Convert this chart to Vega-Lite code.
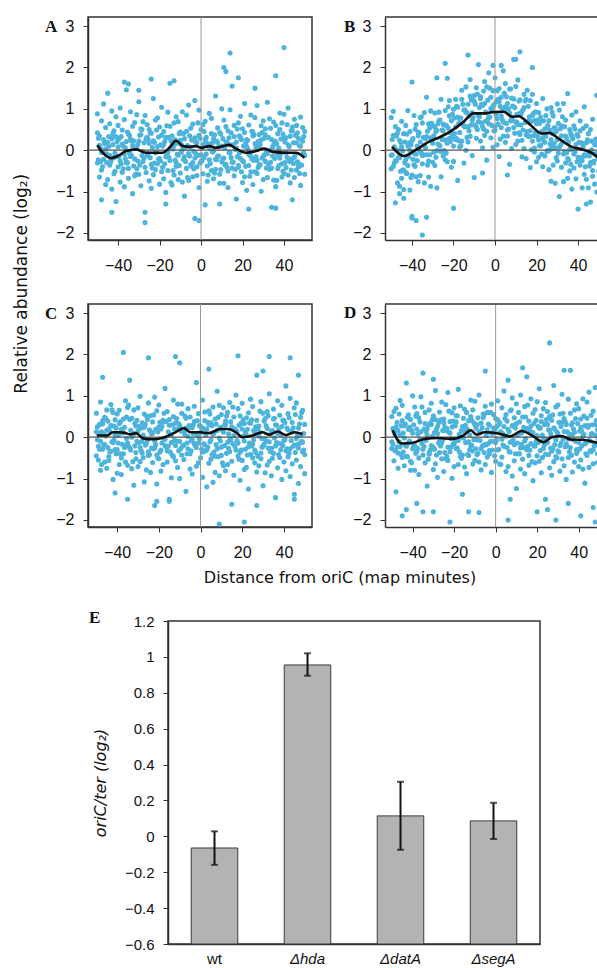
{
"$schema":"https://vega.github.io/schema/vega-lite/v6.json",
"background":"white",
"padding":{"left":13,"top":15,"right":0,"bottom":0},
"config":{
"font":"Liberation Sans",
"title":{"font":"DejaVu Sans","fontSize":16,"fontWeight":"normal","color":"#111"},
"axis":{"labelFont":"Liberation Sans","labelFontSize":16,"labelColor":"#111","domainColor":"#333","domainWidth":1.5,"tickColor":"#333","tickWidth":1,"tickSize":5,"grid":false,"labelOverlap":false,"titleFont":"DejaVu Sans","titleFontSize":16,"titleFontWeight":"normal","titleColor":"#111"},
"axisX":{"labelPadding":12},
"axisY":{"labelPadding":9},
"view":{"stroke":"#333","strokeWidth":1.5}
},
"datasets":{
"A":[{"x":-50,"y":0.42},{"x":-50,"y":-0.31},{"x":-50,"y":0.88},{"x":-49,"y":-0.65},{"x":-49,"y":0.12},{"x":-49,"y":0.35},{"x":-48,"y":0.71},{"x":-48,"y":-0.48},{"x":-48,"y":-0.05},{"x":-47,"y":1.12},{"x":-47,"y":-0.22},{"x":-47,"y":0.26},{"x":-46,"y":-0.83},{"x":-46,"y":0.55},{"x":-46,"y":0.03},{"x":-45,"y":0.19},{"x":-45,"y":-0.71},{"x":-45,"y":1.38},{"x":-44,"y":-0.36},{"x":-44,"y":0.64},{"x":-44,"y":-0.12},{"x":-43,"y":0.95},{"x":-43,"y":-0.94},{"x":-43,"y":0.28},{"x":-42,"y":-0.18},{"x":-42,"y":0.47},{"x":-42,"y":-0.57},{"x":-41,"y":0.33},{"x":-41,"y":-1.24},{"x":-41,"y":0.81},{"x":-40,"y":0.6},{"x":-40,"y":-0.4},{"x":-40,"y":0.08},{"x":-39,"y":-0.77},{"x":-39,"y":1.02},{"x":-39,"y":-0.26},{"x":-38,"y":0.15},{"x":-38,"y":-0.53},{"x":-38,"y":0.49},{"x":-37,"y":-0.09},{"x":-37,"y":0.74},{"x":-37,"y":-0.88},{"x":-36,"y":1.46},{"x":-36,"y":-0.3},{"x":-36,"y":0.21},{"x":-35,"y":-0.44},{"x":-35,"y":0.39},{"x":-35,"y":-0.68},{"x":-34,"y":0.27},{"x":-34,"y":-0.15},{"x":-34,"y":0.93},{"x":-33,"y":-1.05},{"x":-33,"y":0.58},{"x":-33,"y":0.11},{"x":-32,"y":0.67},{"x":-32,"y":-0.62},{"x":-32,"y":-0.21},{"x":-31,"y":0.04},{"x":-31,"y":0.86},{"x":-31,"y":-0.45},{"x":-30,"y":-0.58},{"x":-30,"y":0.22},{"x":-30,"y":1.17},{"x":-29,"y":0.38},{"x":-29,"y":-0.86},{"x":-29,"y":0.52},{"x":-28,"y":-0.27},{"x":-28,"y":0.69},{"x":-28,"y":-0.03},{"x":-27,"y":0.84},{"x":-27,"y":-0.41},{"x":-27,"y":-1.5},{"x":-26,"y":-0.13},{"x":-26,"y":0.31},{"x":-26,"y":0.62},{"x":-25,"y":0.5},{"x":-25,"y":-0.74},{"x":-25,"y":0.17},{"x":-24,"y":-0.92},{"x":-24,"y":0.41},{"x":-24,"y":-0.34},{"x":-23,"y":0.23},{"x":-23,"y":1.25},{"x":-23,"y":-0.59},{"x":-22,"y":-0.47},{"x":-22,"y":-0.06},{"x":-22,"y":0.73},{"x":-21,"y":0.78},{"x":-21,"y":-0.33},{"x":-21,"y":0.09},{"x":-20,"y":-0.2},{"x":-20,"y":0.56},{"x":-20,"y":-0.82},{"x":-19,"y":1.04},{"x":-19,"y":-0.52},{"x":-19,"y":0.36},{"x":-18,"y":-0.69},{"x":-18,"y":0.14},{"x":-18,"y":0.45},{"x":-17,"y":0.31},{"x":-17,"y":-1.02},{"x":-17,"y":-0.16},{"x":-16,"y":-0.04},{"x":-16,"y":0.92},{"x":-16,"y":-0.49},{"x":-15,"y":0.58},{"x":-15,"y":-0.25},{"x":-15,"y":1.62},{"x":-14,"y":-0.84},{"x":-14,"y":0.35},{"x":-14,"y":0.07},{"x":-13,"y":0.12},{"x":-13,"y":-0.6},{"x":-13,"y":0.66},{"x":-12,"y":-0.39},{"x":-12,"y":0.81},{"x":-12,"y":-0.3},{"x":-11,"y":0.69},{"x":-11,"y":-0.12},{"x":-11,"y":-0.71},{"x":-10,"y":-0.55},{"x":-10,"y":0.44},{"x":-10,"y":0.24},{"x":-9,"y":0.93},{"x":-9,"y":-0.77},{"x":-9,"y":0.02},{"x":-8,"y":-0.16},{"x":-8,"y":0.28},{"x":-8,"y":-1.11},{"x":-7,"y":0.46},{"x":-7,"y":-0.44},{"x":-7,"y":0.85},{"x":-6,"y":-0.73},{"x":-6,"y":1.09},{"x":-6,"y":-0.08},{"x":-5,"y":0.07},{"x":-5,"y":-0.35},{"x":-5,"y":0.53},{"x":-4,"y":-0.3},{"x":-4,"y":0.63},{"x":-4,"y":-0.64},{"x":-3,"y":1.2},{"x":-3,"y":-0.19},{"x":-3,"y":0.3},{"x":-2,"y":-0.61},{"x":-2,"y":0.18},{"x":-2,"y":-0.4},{"x":-1,"y":0.36},{"x":-1,"y":-0.9},{"x":-1,"y":0.97},{"x":0,"y":-0.11},{"x":0,"y":0.5},{"x":0,"y":-0.27},{"x":1,"y":0.62},{"x":1,"y":-0.57},{"x":1,"y":0.14},{"x":2,"y":-1.32},{"x":2,"y":0.25},{"x":2,"y":0.7},{"x":3,"y":0.16},{"x":3,"y":-0.38},{"x":3,"y":-0.75},{"x":4,"y":0.89},{"x":4,"y":0.06},{"x":4,"y":-0.23},{"x":5,"y":-0.49},{"x":5,"y":0.77},{"x":5,"y":0.4},{"x":6,"y":0.28},{"x":6,"y":-0.69},{"x":6,"y":-0.02},{"x":7,"y":-0.22},{"x":7,"y":1.31},{"x":7,"y":-0.46},{"x":8,"y":0.54},{"x":8,"y":-0.14},{"x":8,"y":0.19},{"x":9,"y":-0.8},{"x":9,"y":0.43},{"x":9,"y":-0.58},{"x":10,"y":0.1},{"x":10,"y":-0.28},{"x":10,"y":1.0},{"x":11,"y":0.73},{"x":11,"y":-0.8},{"x":11,"y":-0.19},{"x":12,"y":-0.34},{"x":12,"y":0.2},{"x":12,"y":0.57},{"x":13,"y":0.47},{"x":13,"y":-0.5},{"x":13,"y":-0.9},{"x":14,"y":-0.06},{"x":14,"y":0.98},{"x":14,"y":0.13},{"x":15,"y":1.55},{"x":15,"y":-0.43},{"x":15,"y":-0.29},{"x":16,"y":-0.62},{"x":16,"y":0.33},{"x":16,"y":0.6},{"x":17,"y":0.2},{"x":17,"y":-1.18},{"x":17,"y":0.05},{"x":18,"y":-0.41},{"x":18,"y":0.66},{"x":18,"y":-0.37},{"x":19,"y":0.82},{"x":19,"y":-0.2},{"x":19,"y":0.31},{"x":20,"y":-0.25},{"x":20,"y":0.52},{"x":20,"y":-0.78},{"x":21,"y":0.43},{"x":21,"y":-0.64},{"x":21,"y":1.13},{"x":22,"y":-0.97},{"x":22,"y":0.09},{"x":22,"y":0.26},{"x":23,"y":0.61},{"x":23,"y":-0.37},{"x":23,"y":-0.1},{"x":24,"y":-0.14},{"x":24,"y":0.85},{"x":24,"y":-0.52},{"x":25,"y":0.35},{"x":25,"y":-0.83},{"x":25,"y":0.44},{"x":26,"y":-0.52},{"x":26,"y":0.16},{"x":26,"y":0.79},{"x":27,"y":1.08},{"x":27,"y":-0.56},{"x":27,"y":-0.24},{"x":28,"y":-0.35},{"x":28,"y":0.38},{"x":28,"y":0.1},{"x":29,"y":0.25},{"x":29,"y":-0.99},{"x":29,"y":0.59},{"x":30,"y":-0.71},{"x":30,"y":0.71},{"x":30,"y":-0.15},{"x":31,"y":0.52},{"x":31,"y":-0.27},{"x":31,"y":0.37},{"x":32,"y":-0.08},{"x":32,"y":1.16},{"x":32,"y":-0.66},{"x":33,"y":0.76},{"x":33,"y":-0.46},{"x":33,"y":0.0},{"x":34,"y":-0.43},{"x":34,"y":0.26},{"x":34,"y":-1.38},{"x":35,"y":0.14},{"x":35,"y":-0.72},{"x":35,"y":0.68},{"x":36,"y":-0.88},{"x":36,"y":0.6},{"x":36,"y":0.2},{"x":37,"y":0.4},{"x":37,"y":-0.11},{"x":37,"y":-0.44},{"x":38,"y":-0.19},{"x":38,"y":0.9},{"x":38,"y":0.5},{"x":39,"y":0.66},{"x":39,"y":-0.65},{"x":39,"y":-0.33},{"x":40,"y":-0.56},{"x":40,"y":0.3},{"x":40,"y":0.87},{"x":41,"y":0.3},{"x":41,"y":-0.42},{"x":41,"y":-0.06},{"x":42,"y":1.02},{"x":42,"y":0.13},{"x":42,"y":-0.6},{"x":43,"y":-0.28},{"x":43,"y":-0.79},{"x":43,"y":0.34},{"x":44,"y":0.56},{"x":44,"y":0.47},{"x":44,"y":-0.2},{"x":45,"y":-0.66},{"x":45,"y":-0.17},{"x":45,"y":0.75},{"x":46,"y":0.18},{"x":46,"y":0.6},{"x":46,"y":-0.48},{"x":47,"y":-0.4},{"x":47,"y":-0.32},{"x":47,"y":0.29},{"x":48,"y":0.8},{"x":48,"y":0.1},{"x":48,"y":-0.85},{"x":49,"y":-0.1},{"x":49,"y":0.55},{"x":49,"y":0.22},{"x":50,"y":0.45},{"x":50,"y":-0.58},{"x":50,"y":-0.13},
{"x":14,"y":2.35},{"x":40,"y":2.48},{"x":11,"y":2.0},{"x":12,"y":1.9},{"x":-13,"y":1.68},{"x":-24,"y":1.72},{"x":-37,"y":1.65},{"x":-3,"y":-1.65},{"x":-1,"y":-1.7},{"x":-27,"y":-1.75},{"x":-43,"y":-1.5},{"x":-48,"y":-1.2},{"x":23,"y":-1.42},{"x":36,"y":-1.4},{"x":9,"y":-1.3},{"x":36,"y":1.8},{"x":-35,"y":1.6},{"x":18,"y":1.75},{"x":26,"y":1.5},{"x":-30,"y":1.45},{"x":-17,"y":-1.3},{"x":44,"y":-1.2},
{"x":-49.5,"y":-0.23},{"x":-49.5,"y":0.29},{"x":-48.5,"y":0.05},{"x":-48.5,"y":-0.28},{"x":-47.5,"y":-0.4},{"x":-47.5,"y":-0.05},{"x":-46.5,"y":0.2},{"x":-46.5,"y":0.16},{"x":-45.5,"y":-0.09},{"x":-45.5,"y":-0.3},{"x":-44.5,"y":0.33},{"x":-44.5,"y":0.09},{"x":-43.5,"y":-0.28},{"x":-43.5,"y":-0.24},{"x":-42.5,"y":0.14},{"x":-42.5,"y":0.4},{"x":-41.5,"y":-0.51},{"x":-41.5,"y":-0.07},{"x":-40.5,"y":-0.15},{"x":-40.5,"y":0.21},{"x":-39.5,"y":0.28},{"x":-39.5,"y":-0.15},{"x":-38.5,"y":-0.33},{"x":-38.5,"y":0.33},{"x":-37.5,"y":0.1},{"x":-37.5,"y":-0.45},{"x":-36.5,"y":-0.2},{"x":-36.5,"y":0.06},{"x":-35.5,"y":0.44},{"x":-35.5,"y":-0.3},{"x":-34.5,"y":-0.07},{"x":-34.5,"y":0.36},{"x":-33.5,"y":0.22},{"x":-33.5,"y":-0.13},{"x":-32.5,"y":-0.38},{"x":-32.5,"y":0.23},{"x":-31.5,"y":0.04},{"x":-31.5,"y":-0.58},{"x":-30.5,"y":-0.26},{"x":-30.5,"y":0.14},{"x":-29.5,"y":0.36},{"x":-29.5,"y":-0.36},{"x":-28.5,"y":-0.13},{"x":-28.5,"y":0.5},{"x":-27.5,"y":0.18},{"x":-27.5,"y":-0.19},{"x":-26.5,"y":-0.54},{"x":-26.5,"y":0.28},{"x":-25.5,"y":0.26},{"x":-25.5,"y":-0.08},{"x":-24.5,"y":-0.18},{"x":-24.5,"y":0.42},{"x":-23.5,"y":0.07},{"x":-23.5,"y":-0.43},{"x":-22.5,"y":-0.31},{"x":-22.5,"y":0.19},{"x":-21.5,"y":0.49},{"x":-21.5,"y":-0.05},{"x":-20.5,"y":-0.22},{"x":-20.5,"y":0.32},{"x":-19.5,"y":0.13},{"x":-19.5,"y":-0.26},{"x":-18.5,"y":-0.41},{"x":-18.5,"y":0.1},{"x":-17.5,"y":0.21},{"x":-17.5,"y":-0.33},{"x":-16.5,"y":-0.1},{"x":-16.5,"y":0.59},{"x":-15.5,"y":0.31},{"x":-15.5,"y":-0.17},{"x":-14.5,"y":-0.78},{"x":-14.5,"y":0.22},{"x":-13.5,"y":0.03},{"x":-13.5,"y":-0.49},{"x":-12.5,"y":-0.24},{"x":-12.5,"y":0.25},{"x":-11.5,"y":0.17},{"x":-11.5,"y":-0.1},{"x":-10.5,"y":-0.37},{"x":-10.5,"y":0.4},{"x":-9.5,"y":-0.05},{"x":-9.5,"y":0.14},{"x":-8.5,"y":0.4},{"x":-8.5,"y":-0.22},{"x":-7.5,"y":-0.27},{"x":-7.5,"y":0.07},{"x":-6.5,"y":0.11},{"x":-6.5,"y":-0.66},{"x":-5.5,"y":-0.14},{"x":-5.5,"y":0.35},{"x":-4.5,"y":0.25},{"x":-4.5,"y":-0.39},{"x":-3.5,"y":-0.45},{"x":-3.5,"y":-0.03},{"x":-2.5,"y":-0.08},{"x":-2.5,"y":0.19},{"x":-1.5,"y":0.66},{"x":-1.5,"y":-0.13},{"x":-0.5,"y":-0.31},{"x":-0.5,"y":0.29},{"x":0.5,"y":0.06},{"x":0.5,"y":-0.25},{"x":1.5,"y":-0.18},{"x":1.5,"y":0.45},{"x":2.5,"y":0.31},{"x":2.5,"y":-0.09},{"x":3.5,"y":-0.6},{"x":3.5,"y":0.1},{"x":4.5,"y":0.15},{"x":4.5,"y":-0.32},{"x":5.5,"y":-0.04},{"x":5.5,"y":0.18},{"x":6.5,"y":0.37},{"x":6.5,"y":-0.55},{"x":7.5,"y":-0.23},{"x":7.5,"y":0.22},{"x":8.5,"y":0.08},{"x":8.5,"y":-0.14},{"x":9.5,"y":-0.47},{"x":9.5,"y":0.39},{"x":10.5,"y":0.28},{"x":10.5,"y":-0.22},{"x":11.5,"y":-0.35},{"x":11.5,"y":0.06},{"x":12.5,"y":0.2},{"x":12.5,"y":-0.41},{"x":13.5,"y":-0.06},{"x":13.5,"y":0.3},{"x":14.5,"y":0.42},{"x":14.5,"y":-0.18},{"x":15.5,"y":-0.29},{"x":15.5,"y":0.13},{"x":16.5,"y":0.02},{"x":16.5,"y":-0.46},{"x":17.5,"y":-0.16},{"x":17.5,"y":0.51},{"x":18.5,"y":0.35},{"x":18.5,"y":-0.07},{"x":19.5,"y":-0.52},{"x":19.5,"y":0.26},{"x":20.5,"y":0.1},{"x":20.5,"y":-0.28},{"x":21.5,"y":-0.39},{"x":21.5,"y":0.17},{"x":22.5,"y":0.24},{"x":22.5,"y":0.03},{"x":23.5,"y":-0.12},{"x":23.5,"y":-0.63},{"x":24.5,"y":0.46},{"x":24.5,"y":-0.21},{"x":25.5,"y":-0.25},{"x":25.5,"y":0.37},{"x":26.5,"y":0.07},{"x":26.5,"y":-0.16},{"x":27.5,"y":-0.42},{"x":27.5,"y":0.21},{"x":28.5,"y":0.14},{"x":28.5,"y":-0.35},{"x":29.5,"y":-0.19},{"x":29.5,"y":0.43},{"x":30.5,"y":0.29},{"x":30.5,"y":-0.11},{"x":31.5,"y":-0.02},{"x":31.5,"y":-0.43},{"x":32.5,"y":-0.34},{"x":32.5,"y":0.31},{"x":33.5,"y":0.53},{"x":33.5,"y":-0.29},{"x":34.5,"y":-0.14},{"x":34.5,"y":0.08},{"x":35.5,"y":0.22},{"x":35.5,"y":-0.2},{"x":36.5,"y":-0.73},{"x":36.5,"y":0.15},{"x":37.5,"y":0.05},{"x":37.5,"y":-0.37},{"x":38.5,"y":-0.08},{"x":38.5,"y":0.27},{"x":39.5,"y":0.39},{"x":39.5,"y":-0.51},{"x":40.5,"y":-0.3},{"x":40.5,"y":0.2},{"x":41.5,"y":-0.17},{"x":41.5,"y":0.62},{"x":42.5,"y":0.09},{"x":42.5,"y":-0.24},{"x":43.5,"y":-0.48},{"x":43.5,"y":0.47},{"x":44.5,"y":0.18},{"x":44.5,"y":-0.32},{"x":45.5,"y":-0.1},{"x":45.5,"y":0.36},{"x":46.5,"y":0.42},{"x":46.5,"y":-0.28},{"x":47.5,"y":-0.56},{"x":47.5,"y":0.11},{"x":48.5,"y":-0.36},{"x":48.5,"y":0.24},{"x":49.5,"y":0.33},{"x":49.5,"y":-0.06}],
"B":[{"x":-50,"y":-0.45},{"x":-50,"y":0.79},{"x":-50,"y":-0.12},{"x":-49,"y":0.94},{"x":-49,"y":-0.39},{"x":-49,"y":0.36},{"x":-48,"y":-0.25},{"x":-48,"y":-1.27},{"x":-48,"y":0.57},{"x":-47,"y":0.41},{"x":-47,"y":0.0},{"x":-47,"y":-0.79},{"x":-46,"y":-0.87},{"x":-46,"y":0.24},{"x":-46,"y":-0.18},{"x":-45,"y":0.08},{"x":-45,"y":-0.68},{"x":-45,"y":0.7},{"x":-44,"y":-1.16},{"x":-44,"y":0.4},{"x":-44,"y":-0.48},{"x":-43,"y":0.6},{"x":-43,"y":-0.23},{"x":-43,"y":-0.54},{"x":-42,"y":-0.37},{"x":-42,"y":0.96},{"x":-42,"y":0.1},{"x":-41,"y":0.0},{"x":-41,"y":-0.96},{"x":-41,"y":0.45},{"x":-40,"y":-0.6},{"x":-40,"y":0.23},{"x":-40,"y":-1.64},{"x":-39,"y":0.84},{"x":-39,"y":-0.35},{"x":-39,"y":-0.07},{"x":-38,"y":-0.1},{"x":-38,"y":0.62},{"x":-38,"y":-0.64},{"x":-37,"y":0.44},{"x":-37,"y":-0.76},{"x":-37,"y":0.35},{"x":-36,"y":-0.61},{"x":-36,"y":0.2},{"x":-36,"y":0.79},{"x":-35,"y":0.66},{"x":-35,"y":-0.33},{"x":-35,"y":-0.13},{"x":-34,"y":-0.79},{"x":-34,"y":0.91},{"x":-34,"y":0.12},{"x":-33,"y":0.33},{"x":-33,"y":-0.11},{"x":-33,"y":1.28},{"x":-32,"y":-0.26},{"x":-32,"y":0.64},{"x":-32,"y":-0.65},{"x":-31,"y":0.95},{"x":-31,"y":-0.87},{"x":-31,"y":0.3},{"x":-30,"y":0.17},{"x":-30,"y":0.59},{"x":-30,"y":-0.29},{"x":-29,"y":0.56},{"x":-29,"y":-0.37},{"x":-29,"y":0.9},{"x":-28,"y":-0.91},{"x":-28,"y":0.48},{"x":-28,"y":-0.01},{"x":-27,"y":0.92},{"x":-27,"y":0.13},{"x":-27,"y":0.71},{"x":-26,"y":-0.03},{"x":-26,"y":1.23},{"x":-26,"y":-0.64},{"x":-25,"y":0.47},{"x":-25,"y":-0.14},{"x":-25,"y":0.63},{"x":-24,"y":-0.23},{"x":-24,"y":0.96},{"x":-24,"y":0.25},{"x":-23,"y":1.74},{"x":-23,"y":0.17},{"x":-23,"y":-0.28},{"x":-22,"y":0.29},{"x":-22,"y":0.83},{"x":-22,"y":1.2},{"x":-21,"y":-0.41},{"x":-21,"y":0.42},{"x":-21,"y":0.71},{"x":-20,"y":0.99},{"x":-20,"y":-0.27},{"x":-20,"y":0.1},{"x":-19,"y":0.26},{"x":-19,"y":1.23},{"x":-19,"y":0.56},{"x":-18,"y":0.8},{"x":-18,"y":-0.73},{"x":-18,"y":1.04},{"x":-17,"y":0.08},{"x":-17,"y":0.76},{"x":-17,"y":0.43},{"x":-16,"y":1.45},{"x":-16,"y":0.22},{"x":-16,"y":1.23},{"x":-15,"y":0.59},{"x":-15,"y":0.97},{"x":-15,"y":-0.31},{"x":-14,"y":0.0},{"x":-14,"y":1.53},{"x":-14,"y":0.92},{"x":-13,"y":1.11},{"x":-13,"y":0.57},{"x":-13,"y":0.2},{"x":-12,"y":0.34},{"x":-12,"y":1.31},{"x":-12,"y":1.71},{"x":-11,"y":0.91},{"x":-11,"y":-0.13},{"x":-11,"y":0.72},{"x":-10,"y":-0.66},{"x":-10,"y":1.32},{"x":-10,"y":1.18},{"x":-9,"y":1.51},{"x":-9,"y":0.56},{"x":-9,"y":0.29},{"x":-8,"y":0.69},{"x":-8,"y":2.07},{"x":-8,"y":0.84},{"x":-7,"y":1.29},{"x":-7,"y":0.22},{"x":-7,"y":1.25},{"x":-6,"y":0.06},{"x":-6,"y":1.08},{"x":-6,"y":0.57},{"x":-5,"y":1.13},{"x":-5,"y":0.36},{"x":-5,"y":1.66},{"x":-4,"y":0.46},{"x":-4,"y":1.53},{"x":-4,"y":-0.24},{"x":-3,"y":1.87},{"x":-3,"y":0.81},{"x":-3,"y":0.64},{"x":-2,"y":0.3},{"x":-2,"y":1.28},{"x":-2,"y":1.01},{"x":-1,"y":1.06},{"x":-1,"y":0.07},{"x":-1,"y":1.44},{"x":0,"y":0.57},{"x":0,"y":1.75},{"x":0,"y":0.48},{"x":1,"y":1.44},{"x":1,"y":0.76},{"x":1,"y":0.13},{"x":2,"y":-0.15},{"x":2,"y":1.49},{"x":2,"y":1.17},{"x":3,"y":1.28},{"x":3,"y":0.55},{"x":3,"y":0.83},{"x":4,"y":0.68},{"x":4,"y":1.92},{"x":4,"y":0.34},{"x":5,"y":1.61},{"x":5,"y":0.19},{"x":5,"y":1.05},{"x":6,"y":0.34},{"x":6,"y":1.13},{"x":6,"y":0.49},{"x":7,"y":0.9},{"x":7,"y":-0.34},{"x":7,"y":1.48},{"x":8,"y":0.04},{"x":8,"y":1.26},{"x":8,"y":0.8},{"x":9,"y":1.24},{"x":9,"y":0.55},{"x":9,"y":2.19},{"x":10,"y":0.68},{"x":10,"y":1.54},{"x":10,"y":0.14},{"x":11,"y":1.7},{"x":11,"y":0.22},{"x":11,"y":0.62},{"x":12,"y":0.38},{"x":12,"y":0.89},{"x":12,"y":1.22},{"x":13,"y":0.93},{"x":13,"y":-0.16},{"x":13,"y":0.24},{"x":14,"y":0.04},{"x":14,"y":1.35},{"x":14,"y":1.03},{"x":15,"y":1.23},{"x":15,"y":0.37},{"x":15,"y":-0.2},{"x":16,"y":0.34},{"x":16,"y":1.06},{"x":16,"y":0.7},{"x":17,"y":-0.42},{"x":17,"y":0.47},{"x":17,"y":1.2},{"x":18,"y":0.84},{"x":18,"y":1.35},{"x":18,"y":0.22},{"x":19,"y":-0.04},{"x":19,"y":0.05},{"x":19,"y":0.72},{"x":20,"y":1.13},{"x":20,"y":0.64},{"x":20,"y":-0.28},{"x":21,"y":0.25},{"x":21,"y":-0.17},{"x":21,"y":0.91},{"x":22,"y":0.8},{"x":22,"y":0.72},{"x":22,"y":0.11},{"x":23,"y":-0.4},{"x":23,"y":0.3},{"x":23,"y":1.25},{"x":24,"y":0.51},{"x":24,"y":-0.14},{"x":24,"y":0.19},{"x":25,"y":-0.03},{"x":25,"y":1.0},{"x":25,"y":0.55},{"x":26,"y":-0.01},{"x":26,"y":0.72},{"x":26,"y":-0.47},{"x":27,"y":1.03},{"x":27,"y":0.26},{"x":27,"y":0.03},{"x":28,"y":-0.36},{"x":28,"y":0.83},{"x":28,"y":0.4},{"x":29,"y":-0.8},{"x":29,"y":0.54},{"x":29,"y":0.06},{"x":30,"y":1.12},{"x":30,"y":-0.26},{"x":30,"y":0.26},{"x":31,"y":0.07},{"x":31,"y":0.97},{"x":31,"y":-1.12},{"x":32,"y":0.59},{"x":32,"y":-0.41},{"x":32,"y":0.35},{"x":33,"y":-0.76},{"x":33,"y":1.13},{"x":33,"y":-0.09},{"x":34,"y":0.34},{"x":34,"y":-0.31},{"x":34,"y":0.73},{"x":35,"y":-0.2},{"x":35,"y":1.37},{"x":35,"y":-0.68},{"x":36,"y":-0.5},{"x":36,"y":0.5},{"x":36,"y":0.02},{"x":37,"y":0.85},{"x":37,"y":-0.94},{"x":37,"y":0.34},{"x":38,"y":-0.09},{"x":38,"y":0.59},{"x":38,"y":-0.43},{"x":39,"y":0.14},{"x":39,"y":-0.69},{"x":39,"y":0.93},{"x":40,"y":-1.42},{"x":40,"y":0.34},{"x":40,"y":-0.17},{"x":41,"y":0.47},{"x":41,"y":-0.36},{"x":41,"y":0.71},{"x":42,"y":-0.25},{"x":42,"y":0.17},{"x":42,"y":-0.91},{"x":43,"y":1.05},{"x":43,"y":-0.58},{"x":43,"y":-0.11},{"x":44,"y":-0.7},{"x":44,"y":0.59},{"x":44,"y":0.18},{"x":45,"y":-0.09},{"x":45,"y":-0.91},{"x":45,"y":0.4},{"x":46,"y":0.5},{"x":46,"y":-0.3},{"x":46,"y":-1.25},{"x":47,"y":-0.49},{"x":47,"y":0.75},{"x":47,"y":-0.63},{"x":48,"y":0.14},{"x":48,"y":-0.82},{"x":48,"y":-0.1},{"x":49,"y":-1.01},{"x":49,"y":0.24},{"x":49,"y":1.33},{"x":50,"y":-0.07},{"x":50,"y":-0.51},{"x":50,"y":-0.82},
{"x":-40,"y":-1.6},{"x":-38,"y":-1.7},{"x":-35,"y":-2.05},{"x":-33,"y":-1.62},{"x":-20,"y":-1.4},{"x":12,"y":2.38},{"x":-13,"y":2.3},{"x":-24,"y":2.1},{"x":3,"y":2.05},{"x":-1,"y":2.05},{"x":10,"y":2.2},{"x":18,"y":2.0},{"x":-28,"y":1.75},{"x":-40,"y":1.65},{"x":44,"y":-1.3},{"x":27,"y":-0.75},{"x":-6,"y":-0.55},{"x":-46,"y":-1.05},{"x":-44,"y":-0.95},{"x":6,"y":-0.6},
{"x":-49.5,"y":0.26},{"x":-49.5,"y":-0.11},{"x":-48.5,"y":-0.31},{"x":-48.5,"y":0.08},{"x":-47.5,"y":0.34},{"x":-47.5,"y":-0.26},{"x":-46.5,"y":0.5},{"x":-46.5,"y":-0.17},{"x":-45.5,"y":-0.51},{"x":-45.5,"y":0.19},{"x":-44.5,"y":-0.02},{"x":-44.5,"y":-0.48},{"x":-43.5,"y":-0.3},{"x":-43.5,"y":0.2},{"x":-42.5,"y":0.39},{"x":-42.5,"y":-0.56},{"x":-41.5,"y":-0.15},{"x":-41.5,"y":0.18},{"x":-40.5,"y":0.13},{"x":-40.5,"y":-0.66},{"x":-39.5,"y":0.28},{"x":-39.5,"y":-0.22},{"x":-38.5,"y":-0.39},{"x":-38.5,"y":0.51},{"x":-37.5,"y":0.1},{"x":-37.5,"y":-0.25},{"x":-36.5,"y":0.0},{"x":-36.5,"y":0.42},{"x":-35.5,"y":0.81},{"x":-35.5,"y":-0.07},{"x":-34.5,"y":-0.11},{"x":-34.5,"y":0.31},{"x":-33.5,"y":0.28},{"x":-33.5,"y":0.06},{"x":-32.5,"y":-0.36},{"x":-32.5,"y":0.46},{"x":-31.5,"y":0.54},{"x":-31.5,"y":-0.11},{"x":-30.5,"y":0.24},{"x":-30.5,"y":0.65},{"x":-29.5,"y":-0.05},{"x":-29.5,"y":0.35},{"x":-28.5,"y":0.45},{"x":-28.5,"y":-0.17},{"x":-27.5,"y":0.15},{"x":-27.5,"y":0.64},{"x":-26.5,"y":0.73},{"x":-26.5,"y":0.1},{"x":-25.5,"y":0.26},{"x":-25.5,"y":0.49},{"x":-24.5,"y":0.61},{"x":-24.5,"y":-0.01},{"x":-23.5,"y":-0.07},{"x":-23.5,"y":0.6},{"x":-22.5,"y":0.54},{"x":-22.5,"y":1.05},{"x":-21.5,"y":0.21},{"x":-21.5,"y":0.42},{"x":-20.5,"y":0.87},{"x":-20.5,"y":0.31},{"x":-19.5,"y":0.4},{"x":-19.5,"y":0.78},{"x":-18.5,"y":1.06},{"x":-18.5,"y":0.28},{"x":-17.5,"y":0.23},{"x":-17.5,"y":0.65},{"x":-16.5,"y":0.78},{"x":-16.5,"y":0.11},{"x":-15.5,"y":0.63},{"x":-15.5,"y":1.11},{"x":-14.5,"y":0.98},{"x":-14.5,"y":0.56},{"x":-13.5,"y":0.31},{"x":-13.5,"y":0.91},{"x":-12.5,"y":0.83},{"x":-12.5,"y":0.47},{"x":-11.5,"y":0.61},{"x":-11.5,"y":1.22},{"x":-10.5,"y":1.2},{"x":-10.5,"y":0.79},{"x":-9.5,"y":0.61},{"x":-9.5,"y":1.11},{"x":-8.5,"y":1.36},{"x":-8.5,"y":0.5},{"x":-7.5,"y":0.81},{"x":-7.5,"y":1.03},{"x":-6.5,"y":1.11},{"x":-6.5,"y":0.66},{"x":-5.5,"y":0.51},{"x":-5.5,"y":1.43},{"x":-4.5,"y":0.92},{"x":-4.5,"y":0.7},{"x":-3.5,"y":0.74},{"x":-3.5,"y":1.21},{"x":-2.5,"y":1.5},{"x":-2.5,"y":0.8},{"x":-1.5,"y":0.6},{"x":-1.5,"y":1.0},{"x":-0.5,"y":1.1},{"x":-0.5,"y":0.47},{"x":0.5,"y":0.86},{"x":0.5,"y":1.17},{"x":1.5,"y":1.23},{"x":1.5,"y":0.63},{"x":2.5,"y":0.27},{"x":2.5,"y":1.06},{"x":3.5,"y":1.01},{"x":3.5,"y":0.74},{"x":4.5,"y":1.38},{"x":4.5,"y":0.96},{"x":5.5,"y":0.65},{"x":5.5,"y":1.29},{"x":6.5,"y":1.0},{"x":6.5,"y":0.51},{"x":7.5,"y":0.71},{"x":7.5,"y":1.48},{"x":8.5,"y":1.07},{"x":8.5,"y":0.73},{"x":9.5,"y":0.41},{"x":9.5,"y":1.03},{"x":10.5,"y":0.87},{"x":10.5,"y":0.68},{"x":11.5,"y":1.19},{"x":11.5,"y":0.42},{"x":12.5,"y":0.61},{"x":12.5,"y":0.88},{"x":13.5,"y":0.98},{"x":13.5,"y":0.49},{"x":14.5,"y":0.67},{"x":14.5,"y":1.19},{"x":15.5,"y":1.45},{"x":15.5,"y":0.45},{"x":16.5,"y":0.33},{"x":16.5,"y":0.81},{"x":17.5,"y":0.7},{"x":17.5,"y":0.01},{"x":18.5,"y":0.35},{"x":18.5,"y":0.89},{"x":19.5,"y":0.93},{"x":19.5,"y":0.42},{"x":20.5,"y":0.34},{"x":20.5,"y":0.73},{"x":21.5,"y":0.65},{"x":21.5,"y":0.11},{"x":22.5,"y":-0.09},{"x":22.5,"y":0.45},{"x":23.5,"y":0.71},{"x":23.5,"y":0.21},{"x":24.5,"y":0.34},{"x":24.5,"y":0.84},{"x":25.5,"y":0.6},{"x":25.5,"y":0.0},{"x":26.5,"y":0.15},{"x":26.5,"y":0.49},{"x":27.5,"y":0.92},{"x":27.5,"y":0.1},{"x":28.5,"y":0.17},{"x":28.5,"y":0.54},{"x":29.5,"y":0.45},{"x":29.5,"y":-0.18},{"x":30.5,"y":-0.07},{"x":30.5,"y":0.65},{"x":31.5,"y":0.52},{"x":31.5,"y":0.12},{"x":32.5,"y":0.19},{"x":32.5,"y":0.81},{"x":33.5,"y":0.57},{"x":33.5,"y":-0.04},{"x":34.5,"y":-0.06},{"x":34.5,"y":0.29},{"x":35.5,"y":0.2},{"x":35.5,"y":-0.23},{"x":36.5,"y":-0.34},{"x":36.5,"y":0.4},{"x":37.5,"y":0.28},{"x":37.5,"y":0.02},{"x":38.5,"y":-0.04},{"x":38.5,"y":0.51},{"x":39.5,"y":0.38},{"x":39.5,"y":-0.28},{"x":40.5,"y":-0.24},{"x":40.5,"y":0.19},{"x":41.5,"y":0.18},{"x":41.5,"y":-0.18},{"x":42.5,"y":0.53},{"x":42.5,"y":0.09},{"x":43.5,"y":-0.14},{"x":43.5,"y":-0.4},{"x":44.5,"y":0.25},{"x":44.5,"y":0.21},{"x":45.5,"y":-0.38},{"x":45.5,"y":-0.14},{"x":46.5,"y":0.01},{"x":46.5,"y":0.22},{"x":47.5,"y":-0.31},{"x":47.5,"y":-0.27},{"x":48.5,"y":0.27},{"x":48.5,"y":-0.08},{"x":49.5,"y":-0.22},{"x":49.5,"y":0.11}],
"C":[{"x":-50,"y":-0.45},{"x":-50,"y":0.58},{"x":-50,"y":0.13},{"x":-49,"y":0.1},{"x":-49,"y":-0.55},{"x":-49,"y":-0.22},{"x":-48,"y":-0.8},{"x":-48,"y":-0.1},{"x":-48,"y":0.85},{"x":-47,"y":0.4},{"x":-47,"y":0.32},{"x":-47,"y":-0.29},{"x":-46,"y":-0.18},{"x":-46,"y":-0.6},{"x":-46,"y":0.48},{"x":-45,"y":0.66},{"x":-45,"y":0.17},{"x":-45,"y":-0.75},{"x":-44,"y":-0.56},{"x":-44,"y":-0.47},{"x":-44,"y":0.2},{"x":-43,"y":0.28},{"x":-43,"y":0.79},{"x":-43,"y":-0.34},{"x":-42,"y":-1.02},{"x":-42,"y":-0.13},{"x":-42,"y":0.6},{"x":-41,"y":-0.3},{"x":-41,"y":0.42},{"x":-41,"y":0.06},{"x":-40,"y":0.56},{"x":-40,"y":-0.3},{"x":-40,"y":-0.87},{"x":-39,"y":-0.66},{"x":-39,"y":0.65},{"x":-39,"y":0.33},{"x":-38,"y":0.19},{"x":-38,"y":-0.9},{"x":-38,"y":-0.5},{"x":-37,"y":-0.4},{"x":-37,"y":0.11},{"x":-37,"y":0.44},{"x":-36,"y":0.88},{"x":-36,"y":-0.6},{"x":-36,"y":-0.2},{"x":-35,"y":-0.14},{"x":-35,"y":0.72},{"x":-35,"y":-0.68},{"x":-34,"y":0.43},{"x":-34,"y":-0.26},{"x":-34,"y":1.38},{"x":-33,"y":-0.76},{"x":-33,"y":0.46},{"x":-33,"y":0.0},{"x":-32,"y":0.08},{"x":-32,"y":-1.16},{"x":-32,"y":0.66},{"x":-31,"y":-0.52},{"x":-31,"y":0.27},{"x":-31,"y":-0.37},{"x":-30,"y":0.71},{"x":-30,"y":-0.71},{"x":-30,"y":0.15},{"x":-29,"y":-0.25},{"x":-29,"y":0.99},{"x":-29,"y":-0.59},{"x":-28,"y":0.35},{"x":-28,"y":-0.38},{"x":-28,"y":-0.1},{"x":-27,"y":-1.08},{"x":-27,"y":0.56},{"x":-27,"y":0.24},{"x":-26,"y":0.52},{"x":-26,"y":-0.16},{"x":-26,"y":-0.79},{"x":-25,"y":-0.35},{"x":-25,"y":0.83},{"x":-25,"y":-0.44},{"x":-24,"y":0.14},{"x":-24,"y":-0.85},{"x":-24,"y":0.52},{"x":-23,"y":-0.61},{"x":-23,"y":0.37},{"x":-23,"y":0.1},{"x":-22,"y":0.97},{"x":-22,"y":-0.09},{"x":-22,"y":-0.26},{"x":-21,"y":-0.43},{"x":-21,"y":0.64},{"x":-21,"y":-1.13},{"x":-20,"y":0.25},{"x":-20,"y":-0.52},{"x":-20,"y":0.78},{"x":-19,"y":-0.82},{"x":-19,"y":0.2},{"x":-19,"y":-0.31},{"x":-18,"y":0.41},{"x":-18,"y":-0.66},{"x":-18,"y":0.37},{"x":-17,"y":-0.2},{"x":-17,"y":1.18},{"x":-17,"y":-0.05},{"x":-16,"y":0.62},{"x":-16,"y":-0.33},{"x":-16,"y":-0.6},{"x":-15,"y":-1.55},{"x":-15,"y":0.43},{"x":-15,"y":0.29},{"x":-14,"y":0.06},{"x":-14,"y":-0.98},{"x":-14,"y":-0.13},{"x":-13,"y":-0.47},{"x":-13,"y":0.5},{"x":-13,"y":0.9},{"x":-12,"y":0.34},{"x":-12,"y":-0.2},{"x":-12,"y":-0.57},{"x":-11,"y":-0.73},{"x":-11,"y":0.8},{"x":-11,"y":0.19},{"x":-10,"y":-0.1},{"x":-10,"y":0.28},{"x":-10,"y":-1.0},{"x":-9,"y":0.8},{"x":-9,"y":-0.43},{"x":-9,"y":0.58},{"x":-8,"y":-0.54},{"x":-8,"y":0.14},{"x":-8,"y":-0.19},{"x":-7,"y":0.22},{"x":-7,"y":-1.31},{"x":-7,"y":0.46},{"x":-6,"y":-0.28},{"x":-6,"y":0.69},{"x":-6,"y":0.02},{"x":-5,"y":0.49},{"x":-5,"y":-0.77},{"x":-5,"y":-0.4},{"x":-4,"y":-0.89},{"x":-4,"y":-0.06},{"x":-4,"y":0.23},{"x":-3,"y":-0.16},{"x":-3,"y":0.38},{"x":-3,"y":0.75},{"x":-2,"y":1.32},{"x":-2,"y":-0.25},{"x":-2,"y":-0.7},{"x":-1,"y":-0.62},{"x":-1,"y":0.57},{"x":-1,"y":-0.14},{"x":0,"y":0.11},{"x":0,"y":-0.5},{"x":0,"y":0.27},{"x":1,"y":-0.36},{"x":1,"y":0.9},{"x":1,"y":-0.97},{"x":2,"y":0.61},{"x":2,"y":-0.18},{"x":2,"y":0.4},{"x":3,"y":-1.2},{"x":3,"y":0.19},{"x":3,"y":-0.3},{"x":4,"y":0.3},{"x":4,"y":-0.63},{"x":4,"y":0.64},{"x":5,"y":-0.07},{"x":5,"y":0.35},{"x":5,"y":-0.53},{"x":6,"y":0.73},{"x":6,"y":-1.09},{"x":6,"y":0.08},{"x":7,"y":-0.46},{"x":7,"y":0.44},{"x":7,"y":-0.85},{"x":8,"y":0.16},{"x":8,"y":-0.28},{"x":8,"y":1.11},{"x":9,"y":-0.93},{"x":9,"y":0.77},{"x":9,"y":-0.02},{"x":10,"y":0.55},{"x":10,"y":-0.44},{"x":10,"y":-0.24},{"x":11,"y":-0.69},{"x":11,"y":0.12},{"x":11,"y":0.71},{"x":12,"y":0.39},{"x":12,"y":-0.81},{"x":12,"y":0.3},{"x":13,"y":-0.12},{"x":13,"y":0.6},{"x":13,"y":-0.66},{"x":14,"y":0.84},{"x":14,"y":-0.35},{"x":14,"y":-0.07},{"x":15,"y":-0.58},{"x":15,"y":0.25},{"x":15,"y":-1.62},{"x":16,"y":0.04},{"x":16,"y":-0.92},{"x":16,"y":0.49},{"x":17,"y":-0.31},{"x":17,"y":1.02},{"x":17,"y":0.16},{"x":18,"y":0.69},{"x":18,"y":-0.14},{"x":18,"y":-0.45},{"x":19,"y":-1.04},{"x":19,"y":0.52},{"x":19,"y":-0.36},{"x":20,"y":0.2},{"x":20,"y":-0.56},{"x":20,"y":0.82},{"x":21,"y":-0.78},{"x":21,"y":0.33},{"x":21,"y":-0.09},{"x":22,"y":0.47},{"x":22,"y":0.06},{"x":22,"y":-0.73},{"x":23,"y":-0.23},{"x":23,"y":-1.25},{"x":23,"y":0.59},{"x":24,"y":0.92},{"x":24,"y":-0.41},{"x":24,"y":0.34},{"x":25,"y":-0.5},{"x":25,"y":0.74},{"x":25,"y":-0.17},{"x":26,"y":0.13},{"x":26,"y":-0.31},{"x":26,"y":-0.62},{"x":27,"y":-0.84},{"x":27,"y":0.41},{"x":27,"y":1.5},{"x":28,"y":0.27},{"x":28,"y":-0.69},{"x":28,"y":0.03},{"x":29,"y":-0.38},{"x":29,"y":0.86},{"x":29,"y":-0.52},{"x":30,"y":0.58},{"x":30,"y":-0.22},{"x":30,"y":-1.17},{"x":31,"y":-0.04},{"x":31,"y":-0.86},{"x":31,"y":0.45},{"x":32,"y":-0.67},{"x":32,"y":0.62},{"x":32,"y":0.21},{"x":33,"y":1.05},{"x":33,"y":-0.58},{"x":33,"y":-0.11},{"x":34,"y":-0.27},{"x":34,"y":0.15},{"x":34,"y":-0.93},{"x":35,"y":0.44},{"x":35,"y":-0.39},{"x":35,"y":0.68},{"x":36,"y":-1.46},{"x":36,"y":0.3},{"x":36,"y":-0.21},{"x":37,"y":0.09},{"x":37,"y":-0.74},{"x":37,"y":0.88},{"x":38,"y":-0.15},{"x":38,"y":0.53},{"x":38,"y":-0.49},{"x":39,"y":0.77},{"x":39,"y":-1.02},{"x":39,"y":0.26},{"x":40,"y":-0.6},{"x":40,"y":0.4},{"x":40,"y":-0.08},{"x":41,"y":-0.33},{"x":41,"y":1.24},{"x":41,"y":-0.81},{"x":42,"y":0.18},{"x":42,"y":-0.47},{"x":42,"y":0.57},{"x":43,"y":-0.95},{"x":43,"y":0.94},{"x":43,"y":-0.28},{"x":44,"y":0.36},{"x":44,"y":-0.64},{"x":44,"y":0.12},{"x":45,"y":-0.19},{"x":45,"y":0.71},{"x":45,"y":-1.38},{"x":46,"y":0.83},{"x":46,"y":-0.55},{"x":46,"y":-0.03},{"x":47,"y":-1.12},{"x":47,"y":0.22},{"x":47,"y":-0.26},{"x":48,"y":-0.71},{"x":48,"y":0.48},{"x":48,"y":0.05},{"x":49,"y":0.65},{"x":49,"y":-0.12},{"x":49,"y":-0.35},{"x":50,"y":-0.42},{"x":50,"y":0.31},{"x":50,"y":-0.88},
{"x":-37,"y":2.05},{"x":-25,"y":1.92},{"x":-12,"y":1.95},{"x":18,"y":1.97},{"x":33,"y":1.95},{"x":43,"y":1.92},{"x":-10,"y":1.8},{"x":-22,"y":-1.65},{"x":-21,"y":-1.55},{"x":9,"y":-2.1},{"x":21,"y":-2.05},{"x":27,"y":-1.65},{"x":45,"y":-1.5},{"x":-35,"y":-1.5},{"x":-41,"y":-1.35},{"x":4,"y":1.65},{"x":-15,"y":-1.5},{"x":47,"y":1.5},{"x":-47,"y":1.45},{"x":30,"y":1.6},
{"x":-49.5,"y":-0.06},{"x":-49.5,"y":0.25},{"x":-48.5,"y":0.31},{"x":-48.5,"y":-0.29},{"x":-47.5,"y":-0.66},{"x":-47.5,"y":0.13},{"x":-46.5,"y":0.08},{"x":-46.5,"y":-0.19},{"x":-45.5,"y":0.45},{"x":-45.5,"y":0.03},{"x":-44.5,"y":-0.25},{"x":-44.5,"y":0.39},{"x":-43.5,"y":0.14},{"x":-43.5,"y":-0.35},{"x":-42.5,"y":-0.11},{"x":-42.5,"y":0.66},{"x":-41.5,"y":0.27},{"x":-41.5,"y":-0.07},{"x":-40.5,"y":-0.4},{"x":-40.5,"y":0.22},{"x":-39.5,"y":0.05},{"x":-39.5,"y":-0.14},{"x":-38.5,"y":0.37},{"x":-38.5,"y":-0.4},{"x":-37.5,"y":-0.17},{"x":-37.5,"y":0.1},{"x":-36.5,"y":0.24},{"x":-36.5,"y":-0.25},{"x":-35.5,"y":-0.03},{"x":-35.5,"y":0.49},{"x":-34.5,"y":0.78},{"x":-34.5,"y":-0.22},{"x":-33.5,"y":-0.31},{"x":-33.5,"y":0.17},{"x":-32.5,"y":0.1},{"x":-32.5,"y":-0.59},{"x":-31.5,"y":-0.21},{"x":-31.5,"y":0.33},{"x":-30.5,"y":0.41},{"x":-30.5,"y":-0.1},{"x":-29.5,"y":-0.13},{"x":-29.5,"y":0.26},{"x":-28.5,"y":0.22},{"x":-28.5,"y":-0.32},{"x":-27.5,"y":-0.49},{"x":-27.5,"y":0.05},{"x":-26.5,"y":0.31},{"x":-26.5,"y":-0.19},{"x":-25.5,"y":-0.07},{"x":-25.5,"y":0.43},{"x":-24.5,"y":0.18},{"x":-24.5,"y":-0.42},{"x":-23.5,"y":-0.26},{"x":-23.5,"y":0.08},{"x":-22.5,"y":0.54},{"x":-22.5,"y":-0.28},{"x":-21.5,"y":-0.18},{"x":-21.5,"y":0.19},{"x":-20.5,"y":0.13},{"x":-20.5,"y":-0.5},{"x":-19.5,"y":-0.36},{"x":-19.5,"y":0.36},{"x":-18.5,"y":0.26},{"x":-18.5,"y":-0.14},{"x":-17.5,"y":-0.04},{"x":-17.5,"y":0.58},{"x":-16.5,"y":0.38},{"x":-16.5,"y":-0.23},{"x":-15.5,"y":-0.22},{"x":-15.5,"y":0.13},{"x":-14.5,"y":0.07},{"x":-14.5,"y":-0.36},{"x":-13.5,"y":-0.44},{"x":-13.5,"y":0.3},{"x":-12.5,"y":0.2},{"x":-12.5,"y":-0.06},{"x":-11.5,"y":-0.1},{"x":-11.5,"y":0.45},{"x":-10.5,"y":0.33},{"x":-10.5,"y":-0.33},{"x":-9.5,"y":-0.28},{"x":-9.5,"y":0.15},{"x":-8.5,"y":0.15},{"x":-8.5,"y":-0.21},{"x":-7.5,"y":0.51},{"x":-7.5,"y":0.07},{"x":-6.5,"y":-0.14},{"x":-6.5,"y":-0.4},{"x":-5.5,"y":0.28},{"x":-5.5,"y":0.24},{"x":-4.5,"y":-0.33},{"x":-4.5,"y":-0.09},{"x":-3.5,"y":0.09},{"x":-3.5,"y":0.3},{"x":-2.5,"y":-0.2},{"x":-2.5,"y":-0.16},{"x":-1.5,"y":0.4},{"x":-1.5,"y":0.05},{"x":-0.5,"y":-0.05},{"x":-0.5,"y":0.28},{"x":0.5,"y":0.23},{"x":0.5,"y":-0.29},{"x":1.5,"y":0.21},{"x":1.5,"y":-0.16},{"x":2.5,"y":-0.33},{"x":2.5,"y":0.06},{"x":3.5,"y":0.36},{"x":3.5,"y":-0.24},{"x":4.5,"y":0.56},{"x":4.5,"y":-0.11},{"x":5.5,"y":-0.42},{"x":5.5,"y":0.28},{"x":6.5,"y":0.1},{"x":6.5,"y":-0.36},{"x":7.5,"y":-0.18},{"x":7.5,"y":0.32},{"x":8.5,"y":0.48},{"x":8.5,"y":-0.47},{"x":9.5,"y":-0.09},{"x":9.5,"y":0.24},{"x":10.5,"y":0.17},{"x":10.5,"y":-0.62},{"x":11.5,"y":0.3},{"x":11.5,"y":-0.2},{"x":12.5,"y":-0.39},{"x":12.5,"y":0.51},{"x":13.5,"y":0.08},{"x":13.5,"y":-0.27},{"x":14.5,"y":-0.05},{"x":14.5,"y":0.37},{"x":15.5,"y":0.73},{"x":15.5,"y":-0.15},{"x":16.5,"y":-0.22},{"x":16.5,"y":0.2},{"x":17.5,"y":0.14},{"x":17.5,"y":-0.08},{"x":18.5,"y":-0.53},{"x":18.5,"y":0.29},{"x":19.5,"y":0.34},{"x":19.5,"y":-0.31},{"x":20.5,"y":0.02},{"x":20.5,"y":0.43},{"x":21.5,"y":-0.29},{"x":21.5,"y":0.11},{"x":22.5,"y":0.19},{"x":22.5,"y":-0.43},{"x":23.5,"y":-0.14},{"x":23.5,"y":0.35},{"x":24.5,"y":0.42},{"x":24.5,"y":-0.21},{"x":25.5,"y":-0.07},{"x":25.5,"y":0.16},{"x":26.5,"y":0.25},{"x":26.5,"y":-0.37},{"x":27.5,"y":-0.46},{"x":27.5,"y":0.21},{"x":28.5,"y":0.12},{"x":28.5,"y":0.63},{"x":29.5,"y":-0.24},{"x":29.5,"y":-0.03},{"x":30.5,"y":0.39},{"x":30.5,"y":-0.17},{"x":31.5,"y":-0.1},{"x":31.5,"y":0.28},{"x":32.5,"y":0.52},{"x":32.5,"y":-0.26},{"x":33.5,"y":-0.35},{"x":33.5,"y":0.07},{"x":34.5,"y":0.16},{"x":34.5,"y":-0.51},{"x":35.5,"y":-0.02},{"x":35.5,"y":0.46},{"x":36.5,"y":0.29},{"x":36.5,"y":-0.13},{"x":37.5,"y":-0.42},{"x":37.5,"y":0.18},{"x":38.5,"y":0.06},{"x":38.5,"y":-0.3},{"x":39.5,"y":-0.2},{"x":39.5,"y":0.41},{"x":40.5,"y":0.35},{"x":40.5,"y":-0.06},{"x":41.5,"y":-0.28},{"x":41.5,"y":0.22},{"x":42.5,"y":0.47},{"x":42.5,"y":-0.39},{"x":43.5,"y":-0.08},{"x":43.5,"y":0.14},{"x":44.5,"y":0.23},{"x":44.5,"y":-0.22},{"x":45.5,"y":-0.37},{"x":45.5,"y":0.55},{"x":46.5,"y":0.04},{"x":46.5,"y":-0.18},{"x":47.5,"y":-0.15},{"x":47.5,"y":0.32},{"x":48.5,"y":0.6},{"x":48.5,"y":-0.1},{"x":49.5,"y":-0.31},{"x":49.5,"y":0.09}],
"D":[{"x":-50,"y":-0.11},{"x":-50,"y":0.5},{"x":-50,"y":-0.27},{"x":-49,"y":0.62},{"x":-49,"y":-0.57},{"x":-49,"y":0.14},{"x":-48,"y":-1.32},{"x":-48,"y":0.25},{"x":-48,"y":0.7},{"x":-47,"y":0.16},{"x":-47,"y":-0.38},{"x":-47,"y":-0.75},{"x":-46,"y":0.89},{"x":-46,"y":0.06},{"x":-46,"y":-0.23},{"x":-45,"y":-0.49},{"x":-45,"y":0.77},{"x":-45,"y":0.4},{"x":-44,"y":0.28},{"x":-44,"y":-0.69},{"x":-44,"y":-0.02},{"x":-43,"y":-0.22},{"x":-43,"y":1.31},{"x":-43,"y":-0.46},{"x":-42,"y":0.54},{"x":-42,"y":-0.14},{"x":-42,"y":0.19},{"x":-41,"y":-0.8},{"x":-41,"y":0.43},{"x":-41,"y":-0.58},{"x":-40,"y":0.1},{"x":-40,"y":-0.28},{"x":-40,"y":1.0},{"x":-39,"y":0.73},{"x":-39,"y":-0.8},{"x":-39,"y":-0.19},{"x":-38,"y":-0.34},{"x":-38,"y":0.2},{"x":-38,"y":0.57},{"x":-37,"y":0.47},{"x":-37,"y":-0.5},{"x":-37,"y":-0.9},{"x":-36,"y":-0.06},{"x":-36,"y":0.98},{"x":-36,"y":0.13},{"x":-35,"y":1.55},{"x":-35,"y":-0.43},{"x":-35,"y":-0.29},{"x":-34,"y":-0.62},{"x":-34,"y":0.33},{"x":-34,"y":0.6},{"x":-33,"y":0.2},{"x":-33,"y":-1.18},{"x":-33,"y":0.05},{"x":-32,"y":-0.41},{"x":-32,"y":0.66},{"x":-32,"y":-0.37},{"x":-31,"y":0.82},{"x":-31,"y":-0.2},{"x":-31,"y":0.31},{"x":-30,"y":-0.25},{"x":-30,"y":0.52},{"x":-30,"y":-0.78},{"x":-29,"y":0.43},{"x":-29,"y":-0.64},{"x":-29,"y":1.13},{"x":-28,"y":-0.97},{"x":-28,"y":0.09},{"x":-28,"y":0.26},{"x":-27,"y":0.61},{"x":-27,"y":-0.37},{"x":-27,"y":-0.1},{"x":-26,"y":-0.14},{"x":-26,"y":0.85},{"x":-26,"y":-0.52},{"x":-25,"y":0.35},{"x":-25,"y":-0.83},{"x":-25,"y":0.44},{"x":-24,"y":-0.52},{"x":-24,"y":0.16},{"x":-24,"y":0.79},{"x":-23,"y":1.08},{"x":-23,"y":-0.56},{"x":-23,"y":-0.24},{"x":-22,"y":-0.35},{"x":-22,"y":0.38},{"x":-22,"y":0.1},{"x":-21,"y":0.25},{"x":-21,"y":-0.99},{"x":-21,"y":0.59},{"x":-20,"y":-0.71},{"x":-20,"y":0.71},{"x":-20,"y":-0.15},{"x":-19,"y":0.52},{"x":-19,"y":-0.27},{"x":-19,"y":0.37},{"x":-18,"y":-0.08},{"x":-18,"y":1.16},{"x":-18,"y":-0.66},{"x":-17,"y":0.76},{"x":-17,"y":-0.46},{"x":-17,"y":0.0},{"x":-16,"y":-0.43},{"x":-16,"y":0.26},{"x":-16,"y":-1.38},{"x":-15,"y":0.14},{"x":-15,"y":-0.72},{"x":-15,"y":0.68},{"x":-14,"y":-0.88},{"x":-14,"y":0.6},{"x":-14,"y":0.2},{"x":-13,"y":0.4},{"x":-13,"y":-0.11},{"x":-13,"y":-0.44},{"x":-12,"y":-0.19},{"x":-12,"y":0.9},{"x":-12,"y":0.5},{"x":-11,"y":0.66},{"x":-11,"y":-0.65},{"x":-11,"y":-0.33},{"x":-10,"y":-0.56},{"x":-10,"y":0.3},{"x":-10,"y":0.87},{"x":-9,"y":0.3},{"x":-9,"y":-0.42},{"x":-9,"y":-0.06},{"x":-8,"y":1.02},{"x":-8,"y":0.13},{"x":-8,"y":-0.6},{"x":-7,"y":-0.28},{"x":-7,"y":-0.79},{"x":-7,"y":0.34},{"x":-6,"y":0.56},{"x":-6,"y":0.47},{"x":-6,"y":-0.2},{"x":-5,"y":-0.66},{"x":-5,"y":-0.17},{"x":-5,"y":0.75},{"x":-4,"y":0.18},{"x":-4,"y":0.6},{"x":-4,"y":-0.48},{"x":-3,"y":-0.4},{"x":-3,"y":-0.32},{"x":-3,"y":0.29},{"x":-2,"y":0.8},{"x":-2,"y":0.1},{"x":-2,"y":-0.85},{"x":-1,"y":-0.1},{"x":-1,"y":0.55},{"x":-1,"y":0.22},{"x":0,"y":0.45},{"x":0,"y":-0.58},{"x":0,"y":-0.13},{"x":1,"y":0.42},{"x":1,"y":-0.31},{"x":1,"y":0.88},{"x":2,"y":-0.65},{"x":2,"y":0.12},{"x":2,"y":0.35},{"x":3,"y":0.71},{"x":3,"y":-0.48},{"x":3,"y":-0.05},{"x":4,"y":1.12},{"x":4,"y":-0.22},{"x":4,"y":0.26},{"x":5,"y":-0.83},{"x":5,"y":0.55},{"x":5,"y":0.03},{"x":6,"y":0.19},{"x":6,"y":-0.71},{"x":6,"y":1.38},{"x":7,"y":-0.36},{"x":7,"y":0.64},{"x":7,"y":-0.12},{"x":8,"y":0.95},{"x":8,"y":-0.94},{"x":8,"y":0.28},{"x":9,"y":-0.18},{"x":9,"y":0.47},{"x":9,"y":-0.57},{"x":10,"y":0.33},{"x":10,"y":-1.24},{"x":10,"y":0.81},{"x":11,"y":0.6},{"x":11,"y":-0.4},{"x":11,"y":0.08},{"x":12,"y":-0.77},{"x":12,"y":1.02},{"x":12,"y":-0.26},{"x":13,"y":0.15},{"x":13,"y":-0.53},{"x":13,"y":0.49},{"x":14,"y":-0.09},{"x":14,"y":0.74},{"x":14,"y":-0.88},{"x":15,"y":1.46},{"x":15,"y":-0.3},{"x":15,"y":0.21},{"x":16,"y":-0.44},{"x":16,"y":0.39},{"x":16,"y":-0.68},{"x":17,"y":0.27},{"x":17,"y":-0.15},{"x":17,"y":0.93},{"x":18,"y":-1.05},{"x":18,"y":0.58},{"x":18,"y":0.11},{"x":19,"y":0.67},{"x":19,"y":-0.62},{"x":19,"y":-0.21},{"x":20,"y":0.04},{"x":20,"y":0.86},{"x":20,"y":-0.45},{"x":21,"y":-0.58},{"x":21,"y":0.22},{"x":21,"y":1.17},{"x":22,"y":0.38},{"x":22,"y":-0.86},{"x":22,"y":0.52},{"x":23,"y":-0.27},{"x":23,"y":0.69},{"x":23,"y":-0.03},{"x":24,"y":0.84},{"x":24,"y":-0.41},{"x":24,"y":-1.5},{"x":25,"y":-0.13},{"x":25,"y":0.31},{"x":25,"y":0.62},{"x":26,"y":0.5},{"x":26,"y":-0.74},{"x":26,"y":0.17},{"x":27,"y":-0.92},{"x":27,"y":0.41},{"x":27,"y":-0.34},{"x":28,"y":0.23},{"x":28,"y":1.25},{"x":28,"y":-0.59},{"x":29,"y":-0.47},{"x":29,"y":-0.06},{"x":29,"y":0.73},{"x":30,"y":0.78},{"x":30,"y":-0.33},{"x":30,"y":0.09},{"x":31,"y":-0.2},{"x":31,"y":0.56},{"x":31,"y":-0.82},{"x":32,"y":1.04},{"x":32,"y":-0.52},{"x":32,"y":0.36},{"x":33,"y":-0.69},{"x":33,"y":0.14},{"x":33,"y":0.45},{"x":34,"y":0.31},{"x":34,"y":-1.02},{"x":34,"y":-0.16},{"x":35,"y":-0.04},{"x":35,"y":0.92},{"x":35,"y":-0.49},{"x":36,"y":0.58},{"x":36,"y":-0.25},{"x":36,"y":1.62},{"x":37,"y":-0.84},{"x":37,"y":0.35},{"x":37,"y":0.07},{"x":38,"y":0.12},{"x":38,"y":-0.6},{"x":38,"y":0.66},{"x":39,"y":-0.39},{"x":39,"y":0.81},{"x":39,"y":-0.3},{"x":40,"y":0.69},{"x":40,"y":-0.12},{"x":40,"y":-0.71},{"x":41,"y":-0.55},{"x":41,"y":0.44},{"x":41,"y":0.24},{"x":42,"y":0.93},{"x":42,"y":-0.77},{"x":42,"y":0.02},{"x":43,"y":-0.16},{"x":43,"y":0.28},{"x":43,"y":-1.11},{"x":44,"y":0.46},{"x":44,"y":-0.44},{"x":44,"y":0.85},{"x":45,"y":-0.73},{"x":45,"y":1.09},{"x":45,"y":-0.08},{"x":46,"y":0.07},{"x":46,"y":-0.35},{"x":46,"y":0.53},{"x":47,"y":-0.3},{"x":47,"y":0.63},{"x":47,"y":-0.64},{"x":48,"y":1.2},{"x":48,"y":-0.19},{"x":48,"y":0.3},{"x":49,"y":-0.61},{"x":49,"y":0.18},{"x":49,"y":-0.4},
{"x":26,"y":2.28},{"x":-43,"y":-1.75},{"x":-45,"y":-1.9},{"x":-38,"y":-1.6},{"x":-35,"y":-1.8},{"x":-30,"y":-1.8},{"x":-22,"y":-2.05},{"x":-13,"y":-1.8},{"x":-8,"y":-1.82},{"x":7,"y":-1.5},{"x":6,"y":-2.0},{"x":20,"y":-1.8},{"x":25,"y":-1.75},{"x":29,"y":-2.0},{"x":35,"y":-1.6},{"x":41,"y":-1.9},{"x":47,"y":-1.7},{"x":48,"y":-2.05},{"x":-5,"y":1.6},{"x":13,"y":1.68},{"x":33,"y":1.62},{"x":-30,"y":1.4},
{"x":-49.5,"y":0.21},{"x":-49.5,"y":-0.16},{"x":-48.5,"y":-0.33},{"x":-48.5,"y":0.06},{"x":-47.5,"y":0.36},{"x":-47.5,"y":-0.24},{"x":-46.5,"y":0.56},{"x":-46.5,"y":-0.11},{"x":-45.5,"y":-0.42},{"x":-45.5,"y":0.28},{"x":-44.5,"y":0.1},{"x":-44.5,"y":-0.36},{"x":-43.5,"y":-0.18},{"x":-43.5,"y":0.32},{"x":-42.5,"y":0.48},{"x":-42.5,"y":-0.47},{"x":-41.5,"y":-0.09},{"x":-41.5,"y":0.24},{"x":-40.5,"y":0.17},{"x":-40.5,"y":-0.62},{"x":-39.5,"y":0.3},{"x":-39.5,"y":-0.2},{"x":-38.5,"y":-0.39},{"x":-38.5,"y":0.51},{"x":-37.5,"y":0.08},{"x":-37.5,"y":-0.27},{"x":-36.5,"y":-0.05},{"x":-36.5,"y":0.37},{"x":-35.5,"y":0.73},{"x":-35.5,"y":-0.15},{"x":-34.5,"y":-0.22},{"x":-34.5,"y":0.2},{"x":-33.5,"y":0.14},{"x":-33.5,"y":-0.08},{"x":-32.5,"y":-0.53},{"x":-32.5,"y":0.29},{"x":-31.5,"y":0.34},{"x":-31.5,"y":-0.31},{"x":-30.5,"y":0.02},{"x":-30.5,"y":0.43},{"x":-29.5,"y":-0.29},{"x":-29.5,"y":0.11},{"x":-28.5,"y":0.19},{"x":-28.5,"y":-0.43},{"x":-27.5,"y":-0.14},{"x":-27.5,"y":0.35},{"x":-26.5,"y":0.42},{"x":-26.5,"y":-0.21},{"x":-25.5,"y":-0.07},{"x":-25.5,"y":0.16},{"x":-24.5,"y":0.25},{"x":-24.5,"y":-0.37},{"x":-23.5,"y":-0.46},{"x":-23.5,"y":0.21},{"x":-22.5,"y":0.12},{"x":-22.5,"y":0.63},{"x":-21.5,"y":-0.24},{"x":-21.5,"y":-0.03},{"x":-20.5,"y":0.39},{"x":-20.5,"y":-0.17},{"x":-19.5,"y":-0.1},{"x":-19.5,"y":0.28},{"x":-18.5,"y":0.52},{"x":-18.5,"y":-0.26},{"x":-17.5,"y":-0.35},{"x":-17.5,"y":0.07},{"x":-16.5,"y":0.16},{"x":-16.5,"y":-0.51},{"x":-15.5,"y":-0.02},{"x":-15.5,"y":0.46},{"x":-14.5,"y":0.29},{"x":-14.5,"y":-0.13},{"x":-13.5,"y":-0.42},{"x":-13.5,"y":0.18},{"x":-12.5,"y":0.06},{"x":-12.5,"y":-0.3},{"x":-11.5,"y":-0.2},{"x":-11.5,"y":0.41},{"x":-10.5,"y":0.35},{"x":-10.5,"y":-0.06},{"x":-9.5,"y":-0.28},{"x":-9.5,"y":0.22},{"x":-8.5,"y":0.47},{"x":-8.5,"y":-0.39},{"x":-7.5,"y":-0.08},{"x":-7.5,"y":0.14},{"x":-6.5,"y":0.23},{"x":-6.5,"y":-0.22},{"x":-5.5,"y":-0.37},{"x":-5.5,"y":0.55},{"x":-4.5,"y":0.04},{"x":-4.5,"y":-0.18},{"x":-3.5,"y":-0.15},{"x":-3.5,"y":0.32},{"x":-2.5,"y":0.6},{"x":-2.5,"y":-0.1},{"x":-1.5,"y":-0.31},{"x":-1.5,"y":0.09},{"x":-0.5,"y":0.18},{"x":-0.5,"y":-0.45},{"x":0.5,"y":-0.06},{"x":0.5,"y":0.25},{"x":1.5,"y":0.31},{"x":1.5,"y":-0.29},{"x":2.5,"y":-0.66},{"x":2.5,"y":0.13},{"x":3.5,"y":0.08},{"x":3.5,"y":-0.19},{"x":4.5,"y":0.45},{"x":4.5,"y":0.03},{"x":5.5,"y":-0.25},{"x":5.5,"y":0.39},{"x":6.5,"y":0.14},{"x":6.5,"y":-0.35},{"x":7.5,"y":-0.11},{"x":7.5,"y":0.66},{"x":8.5,"y":0.27},{"x":8.5,"y":-0.07},{"x":9.5,"y":-0.4},{"x":9.5,"y":0.22},{"x":10.5,"y":0.05},{"x":10.5,"y":-0.14},{"x":11.5,"y":0.37},{"x":11.5,"y":-0.4},{"x":12.5,"y":-0.17},{"x":12.5,"y":0.1},{"x":13.5,"y":0.24},{"x":13.5,"y":-0.25},{"x":14.5,"y":-0.03},{"x":14.5,"y":0.49},{"x":15.5,"y":0.78},{"x":15.5,"y":-0.22},{"x":16.5,"y":-0.31},{"x":16.5,"y":0.17},{"x":17.5,"y":0.1},{"x":17.5,"y":-0.59},{"x":18.5,"y":-0.21},{"x":18.5,"y":0.33},{"x":19.5,"y":0.41},{"x":19.5,"y":-0.1},{"x":20.5,"y":-0.13},{"x":20.5,"y":0.26},{"x":21.5,"y":0.22},{"x":21.5,"y":-0.32},{"x":22.5,"y":-0.49},{"x":22.5,"y":0.05},{"x":23.5,"y":0.31},{"x":23.5,"y":-0.19},{"x":24.5,"y":-0.07},{"x":24.5,"y":0.43},{"x":25.5,"y":0.18},{"x":25.5,"y":-0.42},{"x":26.5,"y":-0.26},{"x":26.5,"y":0.08},{"x":27.5,"y":0.54},{"x":27.5,"y":-0.28},{"x":28.5,"y":-0.18},{"x":28.5,"y":0.19},{"x":29.5,"y":0.13},{"x":29.5,"y":-0.5},{"x":30.5,"y":-0.36},{"x":30.5,"y":0.36},{"x":31.5,"y":0.26},{"x":31.5,"y":-0.14},{"x":32.5,"y":-0.04},{"x":32.5,"y":0.58},{"x":33.5,"y":0.38},{"x":33.5,"y":-0.23},{"x":34.5,"y":-0.22},{"x":34.5,"y":0.13},{"x":35.5,"y":0.07},{"x":35.5,"y":-0.36},{"x":36.5,"y":-0.44},{"x":36.5,"y":0.3},{"x":37.5,"y":0.2},{"x":37.5,"y":-0.06},{"x":38.5,"y":-0.1},{"x":38.5,"y":0.45},{"x":39.5,"y":0.33},{"x":39.5,"y":-0.33},{"x":40.5,"y":-0.28},{"x":40.5,"y":0.15},{"x":41.5,"y":0.15},{"x":41.5,"y":-0.21},{"x":42.5,"y":0.51},{"x":42.5,"y":0.07},{"x":43.5,"y":-0.14},{"x":43.5,"y":-0.4},{"x":44.5,"y":0.28},{"x":44.5,"y":0.24},{"x":45.5,"y":-0.33},{"x":45.5,"y":-0.09},{"x":46.5,"y":0.09},{"x":46.5,"y":0.3},{"x":47.5,"y":-0.2},{"x":47.5,"y":-0.16},{"x":48.5,"y":0.4},{"x":48.5,"y":0.05},{"x":49.5,"y":-0.05},{"x":49.5,"y":0.28}],
"lA":[{"x":-50,"y":0.12},{"x":-47.4,"y":-0.06},{"x":-43.4,"y":-0.19},{"x":-39.4,"y":-0.12},{"x":-36.2,"y":-0.02},{"x":-31.3,"y":0.02},{"x":-26.5,"y":-0.06},{"x":-18.5,"y":-0.06},{"x":-15.3,"y":0.06},{"x":-12,"y":0.23},{"x":-8.8,"y":0.1},{"x":-5.6,"y":0.08},{"x":-2.4,"y":0.1},{"x":0,"y":0.06},{"x":4,"y":0.1},{"x":7.2,"y":0.06},{"x":13.6,"y":0.13},{"x":16.8,"y":0.04},{"x":21.7,"y":-0.06},{"x":26.5,"y":-0.02},{"x":30.5,"y":0.04},{"x":34.5,"y":-0.04},{"x":41,"y":-0.06},{"x":45.8,"y":-0.06},{"x":49.8,"y":-0.18}],
"lB":[{"x":-49.6,"y":0.08},{"x":-44,"y":-0.14},{"x":-38.4,"y":0},{"x":-32,"y":0.2},{"x":-26.4,"y":0.32},{"x":-20.7,"y":0.48},{"x":-15.1,"y":0.69},{"x":-10.3,"y":0.89},{"x":-4.6,"y":0.89},{"x":-1.4,"y":0.92},{"x":4.2,"y":0.93},{"x":8.2,"y":0.81},{"x":11.4,"y":0.82},{"x":16.2,"y":0.65},{"x":22.7,"y":0.4},{"x":25.9,"y":0.42},{"x":30.7,"y":0.28},{"x":37.1,"y":0.08},{"x":41.9,"y":0.02},{"x":48.3,"y":-0.12},{"x":50,"y":-0.2}],
"lC":[{"x":-49.8,"y":0.04},{"x":-45,"y":0.04},{"x":-42,"y":0.12},{"x":-39.4,"y":0.12},{"x":-36,"y":0.1},{"x":-34,"y":0.07},{"x":-31,"y":0.1},{"x":-27.5,"y":-0.03},{"x":-23,"y":-0.05},{"x":-18.5,"y":-0.02},{"x":-15,"y":0.05},{"x":-12,"y":0.12},{"x":-8,"y":0.22},{"x":-4.8,"y":0.12},{"x":0,"y":0.12},{"x":4,"y":0.1},{"x":9.6,"y":0.2},{"x":13,"y":0.2},{"x":17,"y":0.12},{"x":20.1,"y":0},{"x":24.9,"y":0.04},{"x":29.7,"y":0.12},{"x":32.9,"y":0.06},{"x":37,"y":0.14},{"x":41,"y":0.05},{"x":45,"y":0.12},{"x":49,"y":0.08}],
"lD":[{"x":-49.6,"y":0.17},{"x":-45.3,"y":-0.15},{"x":-40.5,"y":-0.14},{"x":-34,"y":-0.04},{"x":-27.6,"y":-0.02},{"x":-21.2,"y":-0.04},{"x":-15.6,"y":0.04},{"x":-11.9,"y":0.17},{"x":-9.2,"y":0.06},{"x":-5.2,"y":0.12},{"x":1.3,"y":0.09},{"x":6.9,"y":0.02},{"x":12.5,"y":0.15},{"x":18.2,"y":0.02},{"x":23,"y":-0.12},{"x":27,"y":0},{"x":31.8,"y":0.03},{"x":36.6,"y":-0.06},{"x":41.4,"y":-0.06},{"x":47.9,"y":-0.12},{"x":50,"y":-0.14}],
"E":[{"g":"wt","v":-0.065,"lo":-0.159,"hi":0.028},{"g":"Δhda","v":0.955,"lo":0.895,"hi":1.02},{"g":"ΔdatA","v":0.114,"lo":-0.075,"hi":0.304},{"g":"ΔsegA","v":0.086,"lo":-0.015,"hi":0.187}]
},
"title":{"text":"Relative abundance (log₂)","orient":"left","anchor":"end","frame":"bounds","offset":13,"dx":-158,"font":"DejaVu Sans","fontSize":17,"fontWeight":"normal","color":"#111"},
"spacing":20,
"vconcat":[
{"hconcat":[
{"width":224,"height":223,
"title":{"text":"A","anchor":"start","frame":"group","offset":0,"dx":-43,"dy":19,"font":"Liberation Serif","fontWeight":"bold","fontSize":17,"color":"#111"},
"layer":[
{"data":{"name":"A"},"mark":{"type":"circle","size":26,"color":"#4cb3dc","opacity":1,"clip":true},
"encoding":{"x":{"field":"x","type":"quantitative","scale":{"domain":[-54.5,53.5],"nice":false,"zero":false},"axis":{"values":[-40,-20,0,20,40],"title":null,"labelExpr":"replace(datum.label,'-','−')"}},
"y":{"field":"y","type":"quantitative","scale":{"domain":[-2.17,3.22],"nice":false,"zero":false},"axis":{"values":[-2,-1,0,1,2,3],"title":null,"labelExpr":"replace(datum.label,'-','−')"}}}},
{"data":{"values":[{}]},"mark":{"type":"rule","color":"#999","strokeWidth":1},"encoding":{"x":{"datum":0}}},
{"data":{"values":[{}]},"mark":{"type":"rule","color":"#555","strokeWidth":1.2},"encoding":{"y":{"datum":0}}},
{"data":{"name":"lA"},"mark":{"type":"line","color":"#111","strokeWidth":2.6,"interpolate":"monotone","clip":true},"encoding":{"x":{"field":"x","type":"quantitative"},"y":{"field":"y","type":"quantitative"}}}
]},
{"width":214,"height":223,"view":{"stroke":null},
"title":{"text":"B","anchor":"start","frame":"group","offset":0,"dx":-41,"dy":19.5,"font":"Liberation Serif","fontWeight":"bold","fontSize":17,"color":"#111"},
"layer":[
{"data":{"name":"B"},"mark":{"type":"circle","size":26,"color":"#4cb3dc","opacity":1,"clip":true},
"encoding":{"x":{"field":"x","type":"quantitative","scale":{"domain":[-53,50.1],"nice":false,"zero":false},"axis":{"values":[-40,-20,0,20,40],"title":null,"labelExpr":"replace(datum.label,'-','−')"}},
"y":{"field":"y","type":"quantitative","scale":{"domain":[-2.17,3.22],"nice":false,"zero":false},"axis":{"values":[-2,-1,0,1,2,3],"title":null,"labelExpr":"replace(datum.label,'-','−')"}}}},
{"data":{"values":[{}]},"mark":{"type":"rule","color":"#999","strokeWidth":1},"encoding":{"x":{"datum":0}}},
{"data":{"values":[{}]},"mark":{"type":"rule","color":"#555","strokeWidth":1.2},"encoding":{"y":{"datum":0}}},
{"data":{"values":[{}]},"mark":{"type":"rule","color":"#333","strokeWidth":1.5},"encoding":{"y":{"datum":3.22}}},
{"data":{"name":"lB"},"mark":{"type":"line","color":"#111","strokeWidth":2.6,"interpolate":"monotone","clip":true},"encoding":{"x":{"field":"x","type":"quantitative"},"y":{"field":"y","type":"quantitative"}}}
]}
],"spacing":73,"bounds":"flush",
"title":{"text":" ","orient":"bottom","anchor":"middle","frame":"bounds","offset":0,"fontSize":8}},
{"hconcat":[
{"width":224,"height":223,
"title":{"text":"C","anchor":"start","frame":"group","offset":0,"dx":-43,"dy":19,"font":"Liberation Serif","fontWeight":"bold","fontSize":17,"color":"#111"},
"layer":[
{"data":{"name":"C"},"mark":{"type":"circle","size":26,"color":"#4cb3dc","opacity":1,"clip":true},
"encoding":{"x":{"field":"x","type":"quantitative","scale":{"domain":[-54,53.5],"nice":false,"zero":false},"axis":{"values":[-40,-20,0,20,40],"title":null,"labelExpr":"replace(datum.label,'-','−')"}},
"y":{"field":"y","type":"quantitative","scale":{"domain":[-2.17,3.22],"nice":false,"zero":false},"axis":{"values":[-2,-1,0,1,2,3],"title":null,"labelExpr":"replace(datum.label,'-','−')"}}}},
{"data":{"values":[{}]},"mark":{"type":"rule","color":"#999","strokeWidth":1},"encoding":{"x":{"datum":0}}},
{"data":{"values":[{}]},"mark":{"type":"rule","color":"#555","strokeWidth":1.2},"encoding":{"y":{"datum":0}}},
{"data":{"name":"lC"},"mark":{"type":"line","color":"#111","strokeWidth":2.6,"interpolate":"monotone","clip":true},"encoding":{"x":{"field":"x","type":"quantitative"},"y":{"field":"y","type":"quantitative"}}}
]},
{"width":214,"height":223,"view":{"stroke":null},
"title":{"text":"D","anchor":"start","frame":"group","offset":0,"dx":-41,"dy":19,"font":"Liberation Serif","fontWeight":"bold","fontSize":17,"color":"#111"},
"layer":[
{"data":{"name":"D"},"mark":{"type":"circle","size":26,"color":"#4cb3dc","opacity":1,"clip":true},
"encoding":{"x":{"field":"x","type":"quantitative","scale":{"domain":[-53.3,49.8],"nice":false,"zero":false},"axis":{"values":[-40,-20,0,20,40],"title":null,"labelExpr":"replace(datum.label,'-','−')"}},
"y":{"field":"y","type":"quantitative","scale":{"domain":[-2.17,3.22],"nice":false,"zero":false},"axis":{"values":[-2,-1,0,1,2,3],"title":null,"labelExpr":"replace(datum.label,'-','−')"}}}},
{"data":{"values":[{}]},"mark":{"type":"rule","color":"#999","strokeWidth":1},"encoding":{"x":{"datum":0}}},
{"data":{"values":[{}]},"mark":{"type":"rule","color":"#555","strokeWidth":1.2},"encoding":{"y":{"datum":0}}},
{"data":{"values":[{}]},"mark":{"type":"rule","color":"#333","strokeWidth":1.5},"encoding":{"y":{"datum":3.22}}},
{"data":{"name":"lD"},"mark":{"type":"line","color":"#111","strokeWidth":2.6,"interpolate":"monotone","clip":true},"encoding":{"x":{"field":"x","type":"quantitative"},"y":{"field":"y","type":"quantitative"}}}
]}
],"spacing":73,"bounds":"flush",
"title":{"text":"Distance from oriC (map minutes)","orient":"bottom","anchor":"middle","frame":"bounds","offset":9,"dx":18,"font":"DejaVu Sans","fontSize":16,"fontWeight":"normal","color":"#111","subtitle":" ","subtitleFontSize":2,"subtitlePadding":0}},
{"hconcat":[
{"width":10,"height":10,"view":{"stroke":null},"data":{"values":[{}]},"mark":{"type":"point","opacity":0}},
{"width":372,"height":323,
"title":{"text":"E","anchor":"start","frame":"group","offset":0,"dx":-79,"dy":13,"font":"Liberation Serif","fontWeight":"bold","fontSize":17,"color":"#111"},
"data":{"name":"E"},
"encoding":{"x":{"field":"g","type":"nominal","sort":null,"scale":{"paddingInner":0.5,"paddingOuter":0.25},"axis":{"title":null,"labelAngle":0,"ticks":false,"tickSize":0,"labelPadding":7,"labelFont":"Liberation Sans","labelFontSize":15,"labelFontStyle":{"condition":{"test":"datum.value === 'wt'","value":"normal"},"value":"italic"}}}},
"layer":[
{"mark":{"type":"bar","color":"#b3b3b3","stroke":"#3a3a3a","strokeWidth":1},
"encoding":{"y":{"field":"v","type":"quantitative","title":"oriC/ter (log₂)","scale":{"domain":[-0.6,1.2],"nice":false,"zero":false},"axis":{"values":[-0.6,-0.4,-0.2,0,0.2,0.4,0.6,0.8,1,1.2],"labelExpr":"replace(format(datum.value,'~g'),'-','−')","labelOverlap":false,"tickCount":10,"titleFontStyle":"italic","titlePadding":16,"labelFont":"Liberation Sans","labelFontSize":15}},"y2":{"datum":-0.6}}},
{"mark":{"type":"rule","color":"#111","strokeWidth":2},"encoding":{"y":{"field":"lo","type":"quantitative","title":"oriC/ter (log₂)","axis":{"values":[-0.6,-0.4,-0.2,0,0.2,0.4,0.6,0.8,1,1.2],"labelExpr":"replace(format(datum.value,'~g'),'-','−')","labelOverlap":false,"tickCount":10,"titleFontStyle":"italic","titlePadding":16,"labelFont":"Liberation Sans","labelFontSize":15}},"y2":{"field":"hi"}}},
{"mark":{"type":"tick","color":"#111","thickness":2,"size":7},"encoding":{"y":{"field":"lo","type":"quantitative","title":"oriC/ter (log₂)","axis":{"values":[-0.6,-0.4,-0.2,0,0.2,0.4,0.6,0.8,1,1.2],"labelExpr":"replace(format(datum.value,'~g'),'-','−')","labelOverlap":false,"tickCount":10,"titleFontStyle":"italic","titlePadding":16,"labelFont":"Liberation Sans","labelFontSize":15}}}},
{"mark":{"type":"tick","color":"#111","thickness":2,"size":7},"encoding":{"y":{"field":"hi","type":"quantitative","title":"oriC/ter (log₂)","axis":{"values":[-0.6,-0.4,-0.2,0,0.2,0.4,0.6,0.8,1,1.2],"labelExpr":"replace(format(datum.value,'~g'),'-','−')","labelOverlap":false,"tickCount":10,"titleFontStyle":"italic","titlePadding":16,"labelFont":"Liberation Sans","labelFontSize":15}}}}
]}
],"spacing":70,"bounds":"flush"}
]
}
